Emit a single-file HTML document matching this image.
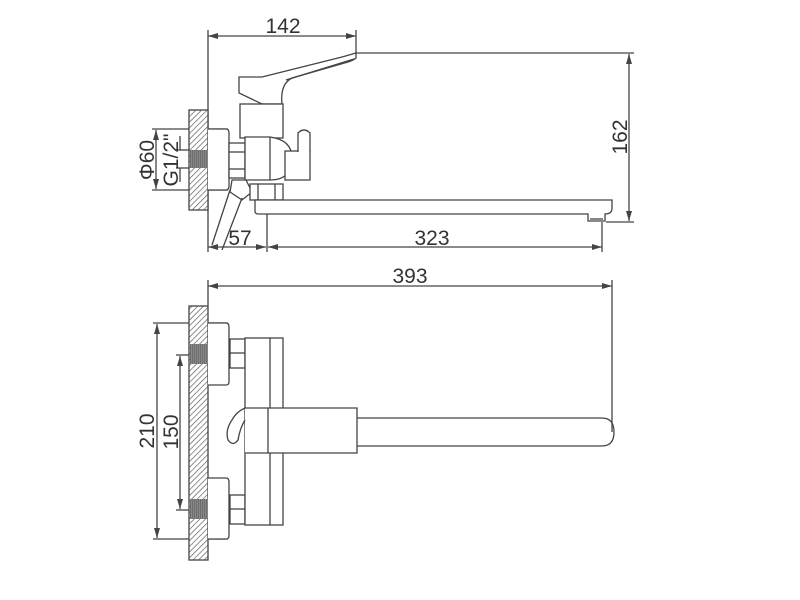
<!DOCTYPE html>
<html><head><meta charset="utf-8"><style>
html,body{margin:0;padding:0;background:#fff;}
svg{display:block;}
text{font-family:"Liberation Sans",sans-serif;fill:#333;font-size:21px;}
</style></head><body>
<svg width="800" height="600" viewBox="0 0 800 600" xmlns="http://www.w3.org/2000/svg">
<defs>
<pattern id="h" width="4" height="4" patternUnits="userSpaceOnUse" patternTransform="rotate(45)">
<rect width="4" height="4" fill="#fff"/><line x1="0" y1="0" x2="0" y2="4" stroke="#555" stroke-width="1.3"/>
</pattern>
<pattern id="t" width="2" height="3" patternUnits="userSpaceOnUse">
<rect width="2" height="3" fill="#888"/><line x1="0" y1="0" x2="0" y2="3" stroke="#444" stroke-width="0.8"/>
</pattern>
<marker id="a" markerWidth="10" markerHeight="6" refX="10" refY="3" orient="auto-start-reverse" markerUnits="userSpaceOnUse">
<path d="M0,0 L10,3 L0,6 Z" fill="#444"/></marker>
</defs>
<g stroke="#444" stroke-width="1.3" fill="none">
<line x1="208" y1="30" x2="208" y2="252"/>
<line x1="356" y1="30" x2="356" y2="54"/>
<line x1="208" y1="36" x2="356" y2="36" marker-start="url(#a)" marker-end="url(#a)"/>
<line x1="356" y1="53" x2="634" y2="53"/>
<line x1="606" y1="222" x2="634" y2="222"/>
<line x1="629" y1="54" x2="629" y2="221" marker-start="url(#a)" marker-end="url(#a)"/>
<line x1="267" y1="200" x2="267" y2="252"/>
<line x1="602" y1="222" x2="602" y2="252"/>
<line x1="208" y1="247" x2="266" y2="247" marker-start="url(#a)" marker-end="url(#a)"/>
<line x1="268" y1="247" x2="602" y2="247" marker-start="url(#a)" marker-end="url(#a)"/>
<line x1="152" y1="129" x2="228" y2="129"/>
<line x1="152" y1="190" x2="228" y2="190"/>
<line x1="156" y1="130" x2="156" y2="189" marker-start="url(#a)" marker-end="url(#a)"/>
<line x1="176" y1="150" x2="190" y2="150"/>
<line x1="176" y1="168" x2="190" y2="168"/>
<line x1="180" y1="136" x2="180" y2="150"/>
<line x1="180" y1="168" x2="180" y2="182"/>
<rect x="189" y="110" width="19" height="100" fill="url(#h)"/>
<rect x="190" y="150" width="18" height="18" fill="url(#t)" stroke="none"/>
<path d="M208,129 H226 Q229,129 229,133 V186 Q229,190 226,190 H208" fill="#fff"/>
<rect x="229" y="143" width="16" height="35" fill="#fff"/>
<line x1="229" y1="152" x2="245" y2="152"/><line x1="229" y1="169" x2="245" y2="169"/>
<path d="M239,77 L262,77 L342,57 L356,53 L356,58 Q354,60 348,62 L292,78 Q280,84 282,104 L262,104 L239,93 Z" fill="#fff"/>
<path d="M286,80 L354,59"/>
<rect x="240" y="104" width="43" height="34" fill="#fff"/>
<path d="M245,137 H270 Q292,140 292,158 Q292,180 270,180 H245 Z" fill="#fff"/>
<line x1="270" y1="137" x2="270" y2="180"/>
<rect x="285" y="151" width="25" height="29" fill="#fff"/>
<path d="M298,152 V133 Q304,127 310,133 V152" fill="#fff"/>
<path d="M232,180 L246,180 L252,192 L242,200 L230,192 Z" fill="#fff"/>
<path d="M230,190 L212,245 M242,198 L222,250"/>
<rect x="250" y="184" width="33" height="16" fill="#fff"/>
<line x1="258" y1="184" x2="258" y2="200"/><line x1="275" y1="184" x2="275" y2="200"/>
<path d="M255,200 V211 Q255,214 258,214 H588 V221 H605 V214 Q612,214 612,208 V200 Z" fill="#fff"/>
<line x1="590" y1="219" x2="603" y2="219"/>
<line x1="208" y1="280" x2="208" y2="306"/>
<line x1="612" y1="280" x2="612" y2="432"/>
<line x1="208" y1="286" x2="612" y2="286" marker-start="url(#a)" marker-end="url(#a)"/>
<line x1="153" y1="323" x2="228" y2="323"/>
<line x1="153" y1="539" x2="228" y2="539"/>
<line x1="157" y1="324" x2="157" y2="538" marker-start="url(#a)" marker-end="url(#a)"/>
<line x1="176" y1="355" x2="190" y2="355"/>
<line x1="176" y1="510" x2="190" y2="510"/>
<line x1="180" y1="356" x2="180" y2="509" marker-start="url(#a)" marker-end="url(#a)"/>
<rect x="189" y="306" width="19" height="254" fill="url(#h)"/>
<rect x="190" y="344" width="18" height="20" fill="url(#t)" stroke="none"/>
<rect x="190" y="499" width="18" height="20" fill="url(#t)" stroke="none"/>
<path d="M208,323 H226 Q229,323 229,327 V382 Q229,385 226,385 H208" fill="#fff"/>
<path d="M208,478 H226 Q229,478 229,482 V536 Q229,539 226,539 H208" fill="#fff"/>
<rect x="230" y="339" width="15" height="29" fill="#fff"/><line x1="230" y1="353" x2="245" y2="353"/>
<rect x="230" y="495" width="15" height="29" fill="#fff"/><line x1="230" y1="509" x2="245" y2="509"/>
<rect x="245" y="338" width="38" height="187" fill="#fff"/>
<line x1="270" y1="338" x2="270" y2="525"/>
<path d="M245,408 H357 V453 H245" fill="#fff"/>
<line x1="268" y1="408" x2="268" y2="453"/>
<path d="M245,408 Q236,412 232,420 Q225,430 228,440 Q233,447 238,440 Q240,428 245,420"/>
<path d="M357,418 H602 Q614,418 614,432 Q614,446 602,446 H357"/>
</g>
<text x="283" y="33" text-anchor="middle">142</text>
<text x="240" y="245" text-anchor="middle">57</text>
<text x="432" y="245" text-anchor="middle">323</text>
<text x="410" y="283" text-anchor="middle">393</text>
<text transform="translate(627,137) rotate(-90)" text-anchor="middle">162</text>
<text transform="translate(154,160) rotate(-90)" text-anchor="middle">Φ60</text>
<text transform="translate(178,160) rotate(-90)" text-anchor="middle">G1/2"</text>
<text transform="translate(154,431) rotate(-90)" text-anchor="middle">210</text>
<text transform="translate(178,432) rotate(-90)" text-anchor="middle">150</text>
</svg>
</body></html>
